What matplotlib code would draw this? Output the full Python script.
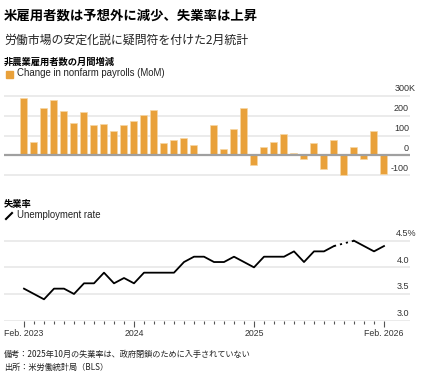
import matplotlib
matplotlib.use("Agg")
import matplotlib.pyplot as plt
import numpy as np
from matplotlib.patches import Rectangle
from matplotlib.lines import Line2D

plt.rcParams['font.family'] = ['Liberation Sans', 'Noto Sans CJK JP']

# 2023年2月〜2026年2月（37か月）
payrolls = [290, 67, 240, 278, 223, 162, 217, 153, 157, 125, 152, 173, 205, 227,
            62, 77, 87, 52, 8, 153, 32, 133, 237, -48, 42, 67, 107, 12, -20, 62,
            -70, 75, -100, 40, -17, 125, -93]
unemp = [3.6, 3.5, 3.4, 3.6, 3.6, 3.5, 3.7, 3.7, 3.9, 3.7, 3.8, 3.7, 3.9, 3.9,
         3.9, 3.9, 4.1, 4.2, 4.2, 4.1, 4.1, 4.2, 4.1, 4.0, 4.2, 4.2, 4.2, 4.3,
         4.1, 4.3, 4.3, 4.4, np.nan, 4.5, 4.4, 4.3, 4.4]
bar_ticks = [300, 200, 100, 0, -100]
bar_tick_labels = ['300K', '200', '100', '0', '-100']
rate_ticks = [4.5, 4.0, 3.5, 3.0]
rate_tick_labels = ['4.5%', '4.0', '3.5', '3.0']
major_idx = [0, 11, 23, 36]
major_labels = ['Feb. 2023', '2024', '2025', 'Feb. 2026']

W, H = 445, 377
fig = plt.figure(figsize=(W / 100, H / 100), dpi=100)

def fx(px):
    return px / W

def fy(py):
    return 1 - py / H

orange = '#E9A13A'
grid_c = '#E6E6E6'
jp = ['Noto Sans CJK JP', 'Liberation Sans']

# タイトル類
fig.text(fx(4), fy(15.5), '米雇用者数は予想外に減少、失業率は上昇', family=jp,
         fontsize=9.6, fontweight='bold', va='center', ha='left')
fig.text(fx(4), fy(40.5), '労働市場の安定化説に疑問符を付けた2月統計', family=jp,
         fontsize=8.6, va='center', ha='left', color='#222222')
fig.text(fx(4), fy(62), '非農業雇用者数の月間増減', family=jp,
         fontsize=6.7, fontweight='bold', va='center', ha='left')
fig.patches.append(Rectangle((fx(6), fy(77.5)), fx(6.5), 6.5 / H,
                             transform=fig.transFigure, color=orange))
fig.text(fx(17), fy(73), 'Change in nonfarm payrolls (MoM)', fontsize=6.95,
         va='center', ha='left', color='#222222')

fig.text(fx(4), fy(204.5), '失業率', family=jp,
         fontsize=6.7, fontweight='bold', va='center', ha='left')
fig.add_artist(Line2D([fx(6), fx(12)], [fy(219), fy(213)], color='black',
                      lw=1.5, transform=fig.transFigure))
fig.text(fx(17), fy(215.5), 'Unemployment rate', fontsize=6.95,
         va='center', ha='left', color='#222222')

x = np.arange(len(payrolls))


def right_label(ax, text, val):
    # 数値の右端を揃え、単位だけはみ出させる
    xr = 416 if text[-1] in 'K%' else 409
    ax.annotate(text, xy=(fx(xr), val), xycoords=('figure fraction', 'data'),
                xytext=(0, 3.4), textcoords='offset points', ha='right',
                va='baseline', fontsize=6.5, color='#333333')


# --- 雇用者数の棒グラフ ---
ax1 = fig.add_axes([fx(4), fy(177.3), 406 / W, 83.6 / H])
ax1.set_xlim(-2, 38.6)
ax1.set_ylim(-110, 310)
for t in bar_ticks:
    if t != 0:
        ax1.axhline(t, color=grid_c, lw=1.1, zorder=0)
ax1.bar(x, payrolls, width=0.7, color=orange, edgecolor='#F6D7A4', linewidth=0.5,
        zorder=2)
ax1.axhline(0, color='#A0A0A0', lw=1.6, zorder=3)
ax1.axis('off')
for t, lab in zip(bar_ticks, bar_tick_labels):
    right_label(ax1, lab, t)

# --- 失業率の折れ線 ---
ax2 = fig.add_axes([fx(4), fy(320.6), 406 / W, 85.2 / H])
ax2.set_xlim(-2, 38.6)
ax2.set_ylim(3.0, 4.6)
for t in rate_ticks:
    ax2.axhline(t, color=grid_c, lw=1.1, zorder=0)
u = np.array(unemp)
ax2.plot(x, u, color='black', lw=1.3, zorder=3)
ax2.plot([31, 33], [u[31], u[33]], color='black', lw=1.3, ls=(0, (1.2, 2.2)), zorder=3)
for s in ax2.spines.values():
    s.set_visible(False)
ax2.set_yticks([])
ax2.set_xticks(major_idx)
ax2.set_xticklabels(major_labels, fontsize=6.3, color='#333333')
ax2.set_xticks([i for i in x if i not in major_idx], minor=True)
ax2.tick_params(axis='x', which='major', length=4.5, width=0.8, color='#555555', pad=1.5)
ax2.tick_params(axis='x', which='minor', length=2.5, width=0.8, color='#555555')
for t, lab in zip(rate_ticks, rate_tick_labels):
    right_label(ax2, lab, t)

# 注記
fig.text(fx(4), fy(354), '備考：2025年10月の失業率は、政府閉鎖のために入手されていない',
         family=jp, fontsize=5.9, va='center', ha='left', color='#222222')
fig.text(fx(4), fy(367), '出所：米労働統計局（BLS）',
         family=jp, fontsize=5.9, va='center', ha='left', color='#222222')

fig.savefig('out.png', dpi=100)
